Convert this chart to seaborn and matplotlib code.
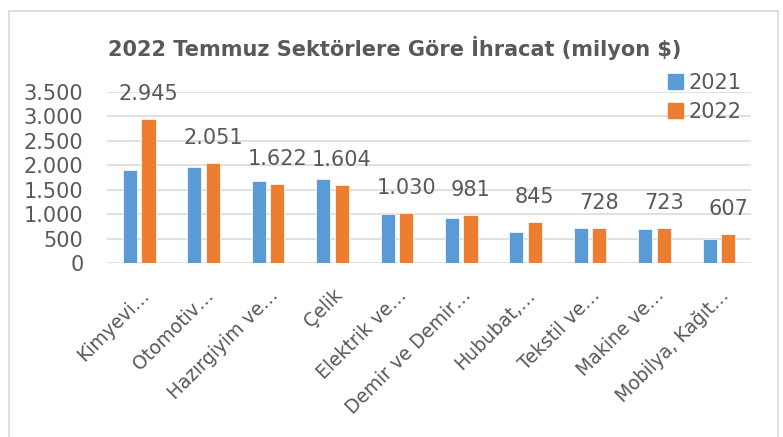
import matplotlib
matplotlib.use("Agg")
import matplotlib.pyplot as plt
import matplotlib.patches as mpatches
from matplotlib.ticker import FuncFormatter
import pandas as pd
import seaborn as sns

# data
sectors = [
    "Kimyevi…", "Otomotiv…", "Hazırgiyim ve…", "Çelik", "Elektrik ve…",
    "Demir ve Demir…", "Hububat,…", "Tekstil ve…", "Makine ve…", "Mobilya, Kağıt…",
]
values_2021 = [1903, 1971, 1680, 1720, 1000, 930, 639, 720, 694, 502]
values_2022 = [2945, 2051, 1622, 1604, 1030, 981, 845, 728, 723, 607]
years = ["2021", "2022"]
y_ticks = [0, 500, 1000, 1500, 2000, 2500, 3000, 3500]

colors = {"2021": "#5B9BD5", "2022": "#ED7D31"}
text_color = "#595959"
grid_color = "#D9D9D9"

df = pd.DataFrame({
    "Sektör": sectors * 2,
    "Yıl": [years[0]] * len(sectors) + [years[1]] * len(sectors),
    "Değer": values_2021 + values_2022,
})

sns.set_style("white")
plt.rcParams["font.family"] = ["DejaVu Sans"]

fig = plt.figure(figsize=(7.83, 4.37), dpi=100)
ax = fig.add_axes([0.1367, 0.3975, 0.8225, 0.3927])

sns.barplot(
    data=df, x="Sektör", y="Değer", hue="Yıl", order=sectors,
    palette=colors, saturation=1, width=0.576, gap=0.24, ax=ax, legend=False,
    edgecolor="white", linewidth=0.5,
)

ax.set_ylim(0, 3500)
ax.set_yticks(y_ticks)
ax.yaxis.set_major_formatter(FuncFormatter(lambda v, p: f"{int(v):,}".replace(",", ".")))
ax.grid(axis="y", color=grid_color, linewidth=1.1)
ax.set_axisbelow(True)
for s in ax.spines.values():
    s.set_visible(False)
ax.set_xlabel("")
ax.set_ylabel("")
ax.tick_params(axis="y", length=0, pad=17, labelsize=15, labelcolor=text_color)
ax.tick_params(axis="x", length=0, pad=16, labelsize=13.5, labelcolor=text_color)
plt.setp(ax.get_xticklabels(), rotation=45, ha="right", rotation_mode="anchor")

# data labels on the 2022 bars
for bar, v in zip(ax.containers[1], values_2022):
    ax.annotate(
        f"{v:,}".replace(",", "."),
        xy=(bar.get_x() + bar.get_width() / 2, bar.get_height()),
        xytext=(0, 18), textcoords="offset points",
        ha="center", va="center", fontsize=15, color=text_color,
    )

handles = [mpatches.Patch(color=colors[y], label=y) for y in years]
ax.legend(
    handles=handles, loc="upper right", bbox_to_anchor=(1.015, 1.22),
    frameon=False, fontsize=15, labelcolor=text_color,
    handlelength=0.7, handleheight=0.7, handletextpad=0.3, labelspacing=0.45,
)

fig.text(0.504, 0.89, "2022 Temmuz Sektörlere Göre İhracat (milyon $)",
         ha="center", va="center", fontsize=15, fontweight="bold", color=text_color)

# chart frame
fig.patches.append(mpatches.Rectangle(
    (9 / 783, -0.05), (778 - 9) / 783, 1.0 - 11 / 437 + 0.05,
    transform=fig.transFigure, fill=False, edgecolor=grid_color, linewidth=1.2,
))

fig.savefig("out.png", dpi=100)
plt.close(fig)
